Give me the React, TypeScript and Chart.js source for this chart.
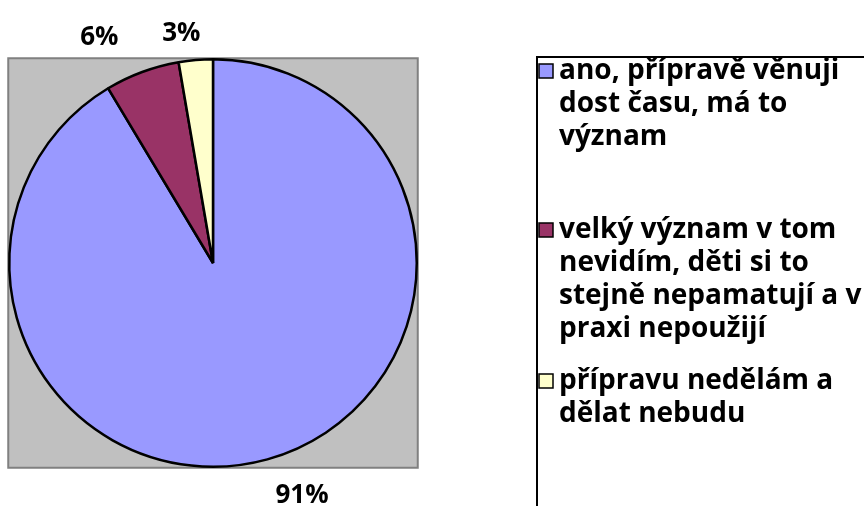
import React, { useEffect, useRef } from "react";
import { Chart, registerables } from "chart.js";

Chart.register(...registerables);

const categories = [
  "ano, přípravě věnuji dost času, má to význam",
  "velký význam v tom nevidím, děti si to stejně nepamatují a v praxi nepoužijí",
  "přípravu nedělám a dělat nebudu",
];
const legendLines = [
  ["ano, přípravě věnuji", "dost času, má to", "význam"],
  ["velký význam v tom", "nevidím, děti si to", "stejně nepamatují a v", "praxi nepoužijí"],
  ["přípravu nedělám a", "dělat nebudu"],
];
const values = [91.4, 5.9, 2.7];
const percentLabels = ["91%", "6%", "3%"];
const colors = ["#9999FF", "#993366", "#FFFFCC"];

const FONT = "'Open Sans', 'DejaVu Sans', sans-serif";
// small text nudges for the outside labels (Excel-like placement)
const labelNudge = [
  [24, -2],
  [-29, 3],
  [-11, 13],
];

const backdropPlugin = {
  id: "backdrop",
  beforeDatasetsDraw(chart: any) {
    const meta = chart.getDatasetMeta(0);
    const arc = meta.data[0];
    if (!arc) return;
    const { x, y, outerRadius } = arc.getProps(["x", "y", "outerRadius"], true);
    const ctx = chart.ctx;
    const h = outerRadius + 1;
    ctx.save();
    ctx.fillStyle = "#C0C0C0";
    ctx.fillRect(x - h, y - h, 2 * h, 2 * h);
    ctx.strokeStyle = "#808080";
    ctx.lineWidth = 2;
    ctx.strokeRect(x - h, y - h, 2 * h, 2 * h);
    ctx.restore();
  },
};

const pctPlugin = {
  id: "pctLabels",
  afterDatasetsDraw(chart: any) {
    const meta = chart.getDatasetMeta(0);
    const ctx = chart.ctx;
    ctx.save();
    ctx.font = `bold 26px ${FONT}`;
    ctx.fillStyle = "#000";
    ctx.textAlign = "center";
    ctx.textBaseline = "middle";
    meta.data.forEach((arc: any, i: number) => {
      const { x, y, startAngle, endAngle, outerRadius } = arc.getProps(
        ["x", "y", "startAngle", "endAngle", "outerRadius"],
        true
      );
      const mid = (startAngle + endAngle) / 2;
      const d = outerRadius + 40;
      ctx.fillText(
        percentLabels[i],
        x + Math.cos(mid) * d + labelNudge[i][0],
        y + Math.sin(mid) * d + labelNudge[i][1]
      );
    });
    ctx.restore();
  },
};

const legendPlugin = {
  id: "boxLegend",
  afterDraw(chart: any) {
    const ctx = chart.ctx;
    const left = 537;
    const top = 57;
    ctx.save();
    ctx.strokeStyle = "#000";
    ctx.lineWidth = 2;
    ctx.strokeRect(left, top, 400, 500);
    ctx.font = `bold 28px ${FONT}`;
    ctx.textAlign = "left";
    ctx.textBaseline = "middle";
    const lineH = 33;
    const starts = [71, 230, 381];
    legendLines.forEach((lines, i) => {
      const y0 = starts[i];
      ctx.fillStyle = colors[i];
      ctx.fillRect(539, y0 - 7, 14, 14);
      ctx.strokeStyle = "#000";
      ctx.lineWidth = 1.5;
      ctx.strokeRect(539, y0 - 7, 14, 14);
      ctx.fillStyle = "#000";
      lines.forEach((t, j) => ctx.fillText(t, 559, y0 + j * lineH));
    });
    ctx.restore();
  },
};

export default function App() {
  const ref = useRef<HTMLCanvasElement>(null);
  useEffect(() => {
    document.body.style.margin = "0";
    const chart = new Chart(ref.current!, {
      type: "pie",
      data: {
        labels: categories,
        datasets: [
          {
            data: values,
            backgroundColor: colors,
            borderColor: "#000",
            borderWidth: 2.5,
          },
        ],
      },
      options: {
        animation: false,
        responsive: false,
        events: [],
        layout: { padding: { left: 8, top: 58, right: 446, bottom: 38 } },
        plugins: {
          legend: { display: false },
          tooltip: { enabled: false },
        },
      },
      plugins: [backdropPlugin, pctPlugin, legendPlugin],
    });
    return () => chart.destroy();
  }, []);
  return (
    <div style={{ width: 864, height: 506, background: "#fff" }}>
      <canvas ref={ref} width={864} height={506} style={{ display: "block" }} />
    </div>
  );
}
